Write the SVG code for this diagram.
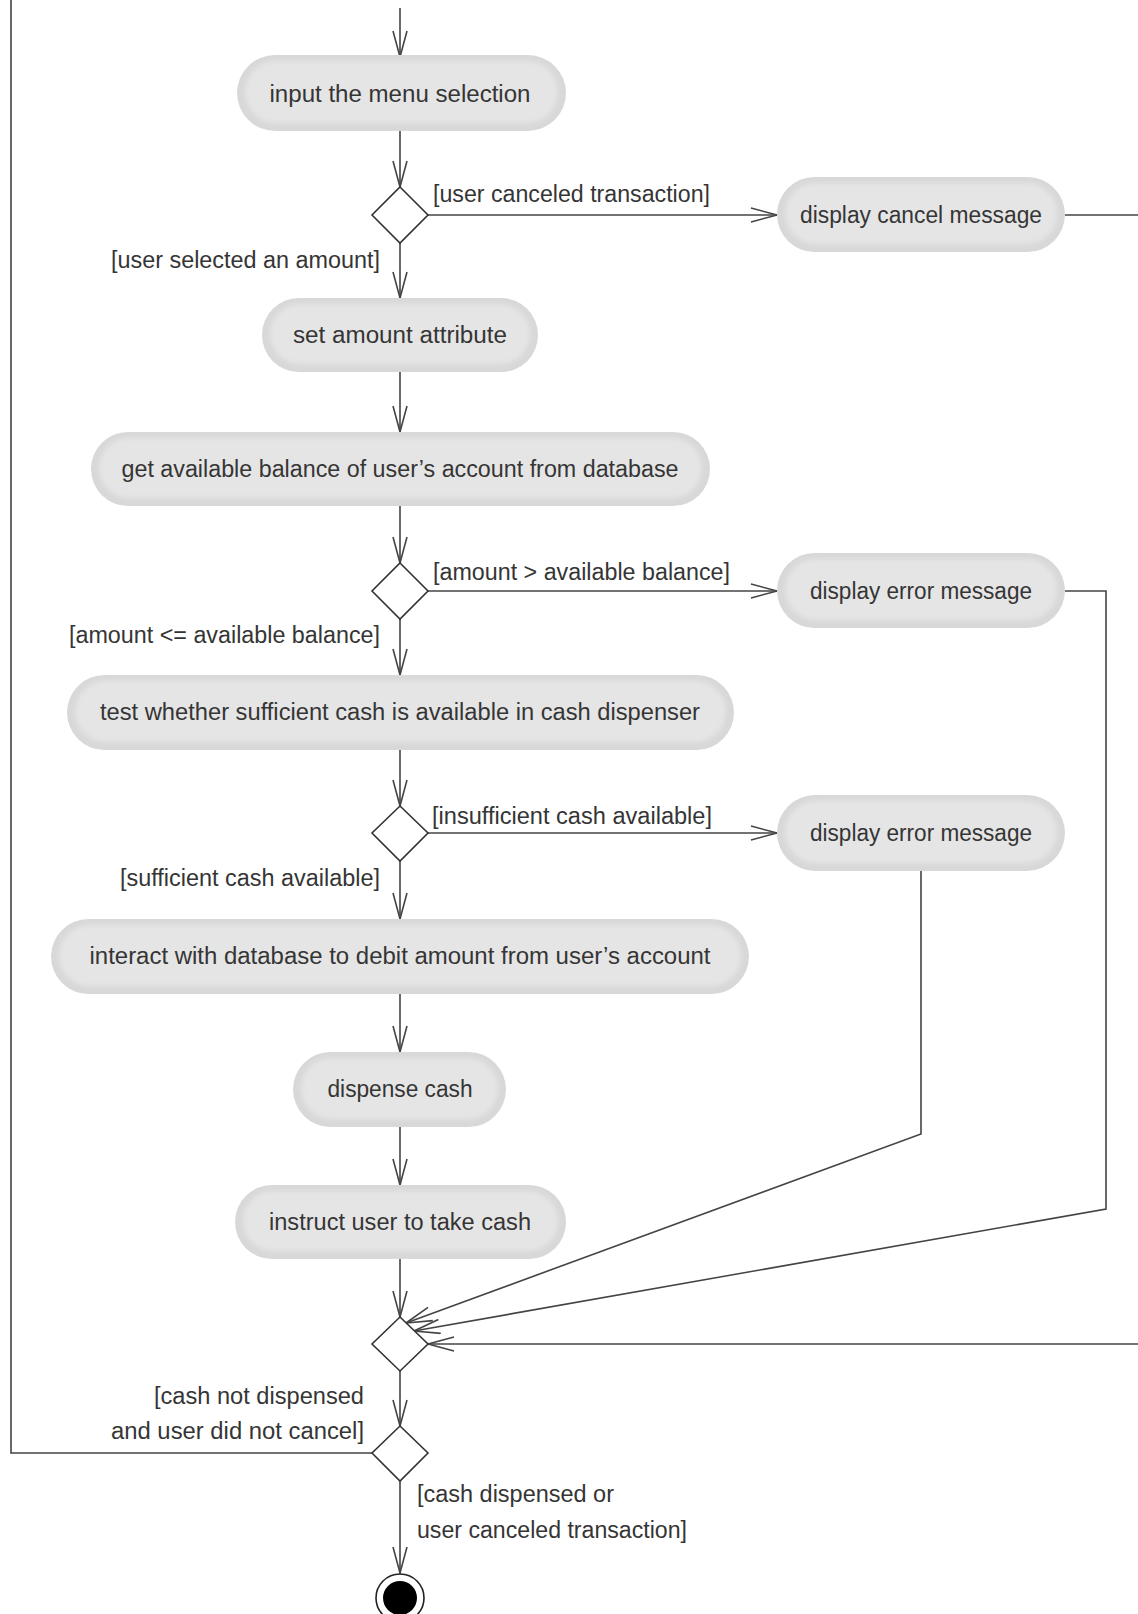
<svg xmlns="http://www.w3.org/2000/svg" width="1138" height="1614" viewBox="0 0 1138 1614">
<style>
.outer{fill:#d8d8d8}
.inner{fill:#e5e5e5;filter:url(#soft)}
.t{font-family:"Liberation Sans",Arial,sans-serif;font-size:23px;fill:#353535;text-anchor:middle}
.l{font-family:"Liberation Sans",Arial,sans-serif;font-size:23px;fill:#353535}
.r{text-anchor:end}
.c{fill:none;stroke:#444;stroke-width:1.6}
.a{marker-end:url(#arr)}
.dia{fill:#fff;stroke:#333;stroke-width:1.6}
</style>
<defs>
<filter id="soft" x="-10%" y="-30%" width="120%" height="160%"><feGaussianBlur stdDeviation="2.5"/></filter>
<marker id="arr" markerUnits="userSpaceOnUse" markerWidth="30" markerHeight="18" refX="27" refY="8" orient="auto"><path d="M1,1 L27,8 L1,15" fill="none" stroke="#444" stroke-width="1.6"/></marker>
</defs>
<rect width="1138" height="1614" fill="#fff"/>
<g id="connectors">
<path class="c a" d="M400,8 L400,57"/>
<path class="c a" d="M400,131 L400,187"/>
<path class="c a" d="M428,215 L777,215"/>
<path class="c" d="M1065,215 L1138,215"/>
<path class="c a" d="M400,243 L400,298"/>
<path class="c a" d="M400,372 L400,432"/>
<path class="c a" d="M400,506 L400,563"/>
<path class="c a" d="M428,591 L777,591"/>
<path class="c a" d="M1065,591 L1106,591 L1106,1209 L414,1331"/>
<path class="c a" d="M400,619 L400,675"/>
<path class="c a" d="M400,750 L400,806"/>
<path class="c a" d="M428,833 L777,833"/>
<path class="c a" d="M921,871 L921,1134 L406,1323"/>
<path class="c a" d="M400,861 L400,919"/>
<path class="c a" d="M400,994 L400,1052"/>
<path class="c a" d="M400,1127 L400,1185"/>
<path class="c a" d="M400,1259 L400,1317"/>
<path class="c a" d="M1138,1344 L428,1344"/>
<path class="c a" d="M400,1371 L400,1426"/>
<path class="c" d="M372,1453 L11,1453 L11,0"/>
<path class="c a" d="M400,1481 L400,1573"/>
</g>
<g id="n1"><rect class="outer" x="237" y="55" width="329" height="76" rx="38"/><rect class="inner" x="245" y="61" width="313" height="62" rx="31"/><text class="t" x="400" y="102" textLength="261" lengthAdjust="spacingAndGlyphs">input the menu selection</text></g>
<g id="d1"><path class="dia" d="M400,187 L428,215 L400,243 L372,215 Z"/></g>
<g id="lbl1"><text class="l" x="433" y="202" textLength="277" lengthAdjust="spacingAndGlyphs">[user canceled transaction]</text></g>
<g id="cancel"><rect class="outer" x="777" y="177" width="288" height="75" rx="37.5"/><rect class="inner" x="785" y="183" width="272" height="61" rx="30.5"/><text class="t" x="921" y="223" textLength="242" lengthAdjust="spacingAndGlyphs">display cancel message</text></g>
<g id="lbl2"><text class="l r" x="380" y="268" textLength="269" lengthAdjust="spacingAndGlyphs">[user selected an amount]</text></g>
<g id="n2"><rect class="outer" x="262" y="298" width="276" height="74" rx="37"/><rect class="inner" x="270" y="304" width="260" height="60" rx="30"/><text class="t" x="400" y="343" textLength="214" lengthAdjust="spacingAndGlyphs">set amount attribute</text></g>
<g id="n3"><rect class="outer" x="91" y="432" width="619" height="74" rx="37"/><rect class="inner" x="99" y="438" width="603" height="60" rx="30"/><text class="t" x="400" y="477" textLength="557" lengthAdjust="spacingAndGlyphs">get available balance of user’s account from database</text></g>
<g id="d2"><path class="dia" d="M400,563 L428,591 L400,619 L372,591 Z"/></g>
<g id="lbl3"><text class="l" x="433" y="580" textLength="297" lengthAdjust="spacingAndGlyphs">[amount &gt; available balance]</text></g>
<g id="err1"><rect class="outer" x="777" y="553" width="288" height="75" rx="37.5"/><rect class="inner" x="785" y="559" width="272" height="61" rx="30.5"/><text class="t" x="921" y="599" textLength="222" lengthAdjust="spacingAndGlyphs">display error message</text></g>
<g id="lbl4"><text class="l r" x="380" y="643" textLength="311" lengthAdjust="spacingAndGlyphs">[amount &lt;= available balance]</text></g>
<g id="n4"><rect class="outer" x="67" y="675" width="667" height="75" rx="37.5"/><rect class="inner" x="75" y="681" width="651" height="61" rx="30.5"/><text class="t" x="400" y="720" textLength="600" lengthAdjust="spacingAndGlyphs">test whether sufficient cash is available in cash dispenser</text></g>
<g id="d3"><path class="dia" d="M400,806 L428,833 L400,861 L372,833 Z"/></g>
<g id="lbl5"><text class="l" x="432" y="824" textLength="280" lengthAdjust="spacingAndGlyphs">[insufficient cash available]</text></g>
<g id="err2"><rect class="outer" x="777" y="795" width="288" height="76" rx="38"/><rect class="inner" x="785" y="801" width="272" height="62" rx="31"/><text class="t" x="921" y="841" textLength="222" lengthAdjust="spacingAndGlyphs">display error message</text></g>
<g id="lbl6"><text class="l r" x="380" y="886" textLength="260" lengthAdjust="spacingAndGlyphs">[sufficient cash available]</text></g>
<g id="n5"><rect class="outer" x="51" y="919" width="698" height="75" rx="37.5"/><rect class="inner" x="59" y="925" width="682" height="61" rx="30.5"/><text class="t" x="400" y="964" textLength="621" lengthAdjust="spacingAndGlyphs">interact with database to debit amount from user’s account</text></g>
<g id="n6"><rect class="outer" x="293" y="1052" width="213" height="75" rx="37.5"/><rect class="inner" x="301" y="1058" width="197" height="61" rx="30.5"/><text class="t" x="400" y="1097" textLength="145" lengthAdjust="spacingAndGlyphs">dispense cash</text></g>
<g id="n7"><rect class="outer" x="235" y="1185" width="331" height="74" rx="37"/><rect class="inner" x="243" y="1191" width="315" height="60" rx="30"/><text class="t" x="400" y="1230" textLength="262" lengthAdjust="spacingAndGlyphs">instruct user to take cash</text></g>
<g id="d4"><path class="dia" d="M400,1317 L428,1344 L400,1371 L372,1344 Z"/></g>
<g id="lbl7"><text class="l r" x="364" y="1404" textLength="210" lengthAdjust="spacingAndGlyphs">[cash not dispensed</text><text class="l r" x="364" y="1439" textLength="253" lengthAdjust="spacingAndGlyphs">and user did not cancel]</text></g>
<g id="d5"><path class="dia" d="M400,1426 L428,1453 L400,1481 L372,1453 Z"/></g>
<g id="lbl8"><text class="l" x="417" y="1502" textLength="197" lengthAdjust="spacingAndGlyphs">[cash dispensed or</text><text class="l" x="417" y="1538" textLength="270" lengthAdjust="spacingAndGlyphs">user canceled transaction]</text></g>
<g id="final"><circle cx="400" cy="1598" r="24" fill="#fff" stroke="#222" stroke-width="1.6"/><circle cx="400" cy="1598" r="17" fill="#000"/></g>
</svg>
